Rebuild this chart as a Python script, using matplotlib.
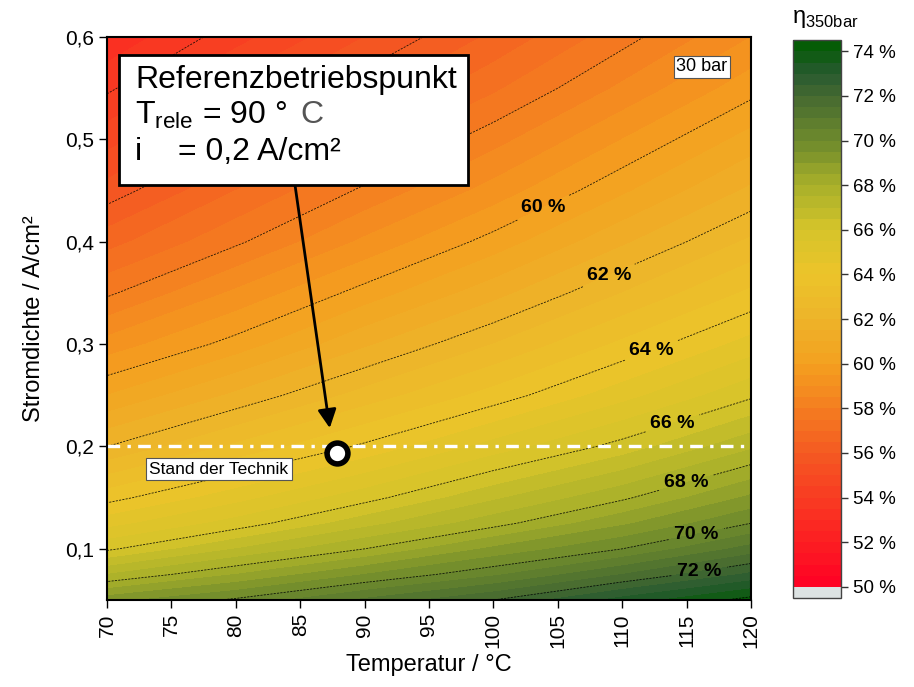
import numpy as np
import matplotlib
matplotlib.use("Agg")
import matplotlib.pyplot as plt
from matplotlib.colors import LinearSegmentedColormap
from matplotlib.patches import Rectangle

plt.rcParams['font.family'] = ['Liberation Sans', 'DejaVu Sans']
plt.rcParams['mathtext.fontset'] = 'custom'
plt.rcParams['mathtext.rm'] = 'Liberation Sans'

# Efficiency field (rows: current density, cols: temperature)
temperature = [70, 80, 90, 100, 110, 120]
current_density = [0.05, 0.075, 0.1, 0.125, 0.15, 0.2, 0.25, 0.3,
                   0.35, 0.4, 0.45, 0.5, 0.55, 0.6]
eta = [
    [69.3, 70.1, 71.1, 72.0, 73.2, 74.2],
    [67.5, 68.5, 69.5, 70.4, 71.5, 72.6],
    [65.9, 67.0, 68.0, 69.1, 70.0, 71.2],
    [64.8, 65.7, 66.8, 67.8, 68.9, 70.0],
    [63.8, 64.8, 65.8, 66.9, 67.9, 69.1],
    [62.0, 63.1, 64.1, 65.2, 66.2, 67.4],
    [60.5, 61.6, 62.7, 63.7, 64.8, 65.9],
    [59.2, 60.2, 61.4, 62.5, 63.6, 64.7],
    [57.9, 59.1, 60.2, 61.3, 62.5, 63.6],
    [56.8, 57.9, 59.1, 60.2, 61.4, 62.6],
    [55.7, 57.0, 58.1, 59.2, 60.4, 61.6],
    [54.8, 56.0, 57.2, 58.3, 59.5, 60.7],
    [53.9, 55.2, 56.3, 57.4, 58.6, 59.8],
    [53.1, 54.3, 55.5, 56.6, 57.8, 59.0],
]

plain_levels = [52, 54, 56, 58, 74]
label_levels = [60, 62, 64, 66, 68, 70, 72]
label_T = [104.0, 109.0, 112.3, 113.9, 115.1, 115.8, 116.0]
label_i = [0.429, 0.366, 0.293, 0.223, 0.159, 0.112, 0.077]

ref_T, ref_i = 87.9, 0.194
state_of_art_i = 0.2
cbar_ticks = list(range(50, 75, 2))

# colour scale, 0.5 % bands
anchors = [(50, '#ff0024'), (52, '#fc1e22'), (54, '#f83c22'), (56, '#f45a22'),
           (58, '#f47e20'), (60, '#f4a01f'), (62, '#edb42a'), (64, '#ecc42a'),
           (66, '#d6c42a'), (68, '#a8b02a'), (70, '#6e8a2c'), (72, '#466a30'),
           (73, '#285a30'), (74.5, '#005c00')]
lo, hi = anchors[0][0], anchors[-1][0]
cmap = LinearSegmentedColormap.from_list(
    'eta', [((v - lo) / (hi - lo), c) for v, c in anchors])
bounds = np.arange(49.5, 74.51, 0.5)
band_colors = ['#dde3e3'] + [cmap((b + 0.25 - lo) / (hi - lo)) for b in bounds[1:-1]]

fig = plt.figure(figsize=(9.14, 6.87), dpi=100)
ax = fig.add_axes([0.117, 0.1266, 0.7046, 0.8195])
cax = fig.add_axes([0.8676, 0.1295, 0.0525, 0.812])

T, I = np.meshgrid(temperature, current_density)
E = np.array(eta)
cf = ax.contourf(T, I, E, levels=bounds, colors=band_colors)
line_style = dict(colors='k', linewidths=0.6, linestyles=[(0, (2.5, 1.5))], alpha=0.85)
ax.contour(T, I, E, levels=plain_levels, **line_style)
cs = ax.contour(T, I, E, levels=label_levels, **line_style)
labels = ax.clabel(cs, fmt='%d %%', fontsize=14, inline=True, inline_spacing=6,
                   colors='black', manual=list(zip(label_T, label_i)))
for t in labels:
    t.set_rotation(0)
    t.set_fontweight('bold')
    t.set_alpha(1)

ax.axhline(state_of_art_i, color='white', lw=2.4, dashes=[3.8, 2.2, 1.0, 2.2])
ax.text(78.7, 0.178, 'Stand der Technik', ha='center', va='center', fontsize=12.5,
        bbox=dict(boxstyle='square,pad=0.2', fc='white', ec='#555555', lw=0.8))
ax.text(116.2, 0.571, '30 bar', ha='center', va='center', fontsize=13,
        bbox=dict(boxstyle='square,pad=0.15', fc='white', ec='#555555', lw=0.8))

ax.plot(ref_T, ref_i, 'o', ms=15, mfc='white', mec='black', mew=4, zorder=6)
ax.annotate('', xy=(87.3, 0.218), xytext=(84.6, 0.4555),
            arrowprops=dict(arrowstyle='-|>', color='black', lw=2,
                            mutation_scale=28, shrinkA=0, shrinkB=0), zorder=6)

ax.add_patch(Rectangle((70.93, 0.4555), 27.1, 0.127, fc='white', ec='black',
                       lw=2, zorder=7))
ax.text(72.2, 0.558, 'Referenzbetriebspunkt', fontsize=23, va='center', zorder=8)
ax.text(72.2, 0.524, 'T$_{\\mathrm{rele}}$ = 90 °', fontsize=23, va='center', zorder=8)
ax.text(85.0, 0.524, 'C', fontsize=23, va='center', color='#555555', zorder=8)
ax.text(72.2, 0.488, 'i', fontsize=23, va='center', zorder=8)
ax.text(75.5, 0.488, '= 0,2 A/cm²', fontsize=23, va='center', zorder=8)

ax.set_xlim(70, 120)
ax.set_ylim(0.05, 0.6)
ax.set_xticks(range(70, 121, 5))
ax.set_xticklabels([str(x) for x in range(70, 121, 5)], rotation=90)
yt = [0.1, 0.2, 0.3, 0.4, 0.5, 0.6]
ax.set_yticks(yt)
ax.set_yticklabels([f'{v:.1f}'.replace('.', ',') for v in yt])
ax.tick_params(direction='out', length=6, width=1, labelsize=15)
for s in ax.spines.values():
    s.set_linewidth(1.5)
ax.set_xlabel('Temperatur / °C', fontsize=17)
ax.set_ylabel('Stromdichte / A/cm²', fontsize=17, labelpad=14)

cb = fig.colorbar(cf, cax=cax, ticks=cbar_ticks)
cb.ax.set_yticklabels([f'{v} %' for v in cbar_ticks])
cb.ax.tick_params(length=5, width=1, color='#333333', labelsize=13.5)
cb.outline.set_edgecolor('#444444')
cb.outline.set_linewidth(1)
fig.text(0.866, 0.972, 'η$_{\\mathrm{350bar}}$', fontsize=17, ha='left', va='center')

fig.savefig('out.png', dpi=100)
